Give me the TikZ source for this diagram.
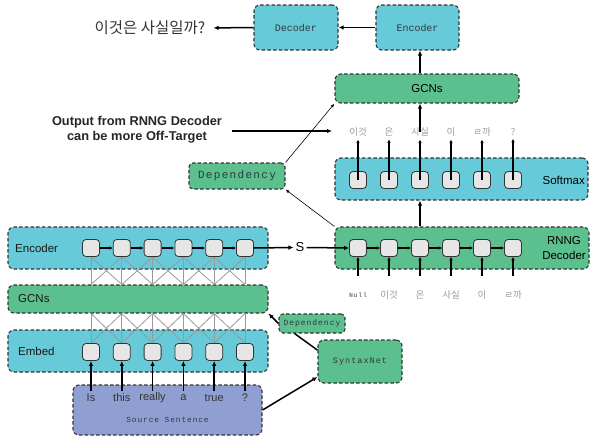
\documentclass[tikz,border=0pt]{standalone}
\usepackage{fontspec}
\setmainfont{Liberation Sans}
\newfontfamily\krfont{Noto Sans CJK KR}
\newfontfamily\monofont{Liberation Mono}
\newfontfamily\monowide[LetterSpace=12]{Liberation Mono}
\usetikzlibrary{arrows.meta}

\definecolor{cyanbox}{HTML}{67CAD8}
\definecolor{greenbox}{HTML}{5CBF8E}
\definecolor{lavbox}{HTML}{8F9FD2}
\definecolor{cellfill}{HTML}{E6E6E6}
\definecolor{edge}{HTML}{333333}
\definecolor{labgray}{HTML}{9A9A9A}
\definecolor{gridgray}{HTML}{999999}
\definecolor{inkgray}{HTML}{2E3A3E}

\begin{document}
\begin{tikzpicture}[x=1pt,y=-1pt,
  blk/.style={draw=edge, dash pattern=on 3.5pt off 2.2pt, line width=1.1pt,
              rounded corners=6pt, inner sep=0pt},
  cbox/.style={blk, fill=cyanbox},
  gbox/.style={blk, fill=greenbox},
  pbox/.style={blk, fill=lavbox},
  cell/.style={draw=edge, fill=cellfill, line width=0.8pt, rounded corners=3.5pt,
               minimum size=17pt, inner sep=0pt},
  arr/.style={-{Latex[length=5pt,width=4.5pt]}, line width=1.5pt},
  sarr/.style={-{Latex[length=3.5pt,width=3.5pt]}, line width=1.4pt},
  tarr/.style={-{Latex[length=4pt,width=3pt]}, line width=0.6pt},
  grid/.style={draw=gridgray, line width=0.8pt},
  blabel/.style={font=\fontsize{11.5}{13}\selectfont, text=black!90, anchor=west, inner sep=0pt},
  krlab/.style={font=\krfont\fontsize{9.5}{11}\selectfont, text=labgray, inner sep=3pt},
  mono/.style={font=\monofont\fontsize{10}{12}\selectfont, text=inkgray},
]
\useasboundingbox (0,0) rectangle (592,437);

% ---------------- top row: output sentence and encoder/decoder ----------------
\node[font=\krfont\fontsize{15.5}{17}\selectfont, text=black!80, inner sep=2pt] (q) at (150,28) {이것은 사실일까?};
\node[cbox, mono, minimum width=84pt, minimum height=45pt] (dec) at (296,27.5) {Decoder};
\node[cbox, mono, minimum width=83pt, minimum height=45pt] (enc) at (417.5,27.5) {Encoder};
\draw[arr] (enc.west) -- (dec.east);
\draw[arr, shorten >=6pt] (dec.west) -- (q.east);

% ---------------- GCNs over the decoder output ----------------
\node[gbox, minimum width=184pt, minimum height=29pt,
      font=\fontsize{11.5}{13}\selectfont] (gt) at (427,88.5) {GCNs};

% ---------------- softmax layer ----------------
\node[cbox, minimum width=253pt, minimum height=42pt] (soft) at (461.5,179) {};
\node[font=\fontsize{11.5}{13}\selectfont, anchor=east, inner sep=0pt] (softlab) at (585,180) {Softmax};
\foreach \i/\t in {1/이것,2/은,3/사실,4/이,5/ㄹ까,6/?} {
  \node[cell] (s\i) at ({358+31*(\i-1)},180) {};
  \node[krlab] (k\i) at ({358+31*(\i-1)},132) {\t};
}
\foreach \i in {1,...,6} \draw[sarr] (s\i.center) -- (k\i.south);
\draw[arr] ([yshift=-7pt]k3.north) -- (gt.south -| k3);
\draw[arr] (gt.north -| k3) -- (enc.south -| k3);

% ---------------- RNNG decoder ----------------
\node[gbox, minimum width=254pt, minimum height=42pt] (rnng) at (462,248) {};
\node[font=\fontsize{11.5}{15}\selectfont, align=center, inner sep=0pt] (rnnglab) at (564,248) {RNNG\\Decoder};
\foreach \i/\t in {1/이것,2/은,3/사실,4/이,5/ㄹ까} {
  \node[krlab] (b\the\numexpr\i+1\relax) at ({358+31*\i},295) {\t};
}
\node[font=\monowide\bfseries\fontsize{6.5}{8}\selectfont, text=labgray!80!black, inner sep=3pt] (b1) at (358,295) {Null};
\foreach \i in {1,...,6} {
  \node[cell] (r\i) at ({358+31*(\i-1)},248) {};
}
\foreach \i [count=\j from 2] in {1,...,5} \draw[sarr] (r\i.east) -- (r\j.west);
\foreach \i in {1,...,6} \draw[sarr] ([yshift=6pt]b\i.north |- 0,282) -- (r\i.south);
\draw[arr] (rnng.north -| r3) -- (soft.south -| r3);

% ---------------- source side: encoder, GCNs, embedding ----------------
\node[cbox, minimum width=260pt, minimum height=42pt] (encL) at (138,248) {};
\node[blabel] (encLlab) at (15,248) {Encoder};
\node[gbox, minimum width=260pt, minimum height=28pt] (gl) at (138,299) {};
\node[blabel] (gllab) at (18,299) {GCNs};
\node[cbox, minimum width=260pt, minimum height=42pt] (emb) at (138,351) {};
\node[blabel] (emblab) at (18,351) {Embed};

% node positions of the six word columns
\foreach \i in {1,...,6} {
  \coordinate (c\i) at ({91+30.8*(\i-1)},0);
}
% graph-convolution wiring between the layers
\foreach \i in {1,...,6} {
  \draw[grid] (c\i |- 0,257) -- (c\i |- gl.north);
  \draw[grid] (c\i |- gl.south) -- (c\i |- 0,343);
}
\foreach \i [count=\j from 2] in {1,...,5} {
  \draw[grid] (c\i |- 0,257) -- (c\j |- gl.north);
  \draw[grid] (c\j |- 0,257) -- (c\i |- gl.north);
  \draw[grid] (c\i |- gl.south) -- (c\j |- 0,343);
  \draw[grid] (c\j |- gl.south) -- (c\i |- 0,343);
}
\foreach \i in {1,...,6} {
  \node[cell] (e\i) at (c\i |- 0,248) {};
  \node[cell] (m\i) at (c\i |- 0,352) {};
}
\foreach \i [count=\j from 2] in {1,...,5} \draw[sarr] (e\i.east) -- (e\j.west);

% ---------------- source sentence ----------------
\node[pbox, minimum width=189pt, minimum height=50pt] (src) at (167.5,410) {};
\foreach \i/\t in {1/Is,2/this,3/really,4/a,5/true,6/?} {
  \node[font=\fontsize{11}{13}\selectfont, text=black!80, inner sep=2pt] (w\i) at (c\i |- 0,398) {\t};
}
\node[font=\monowide\fontsize{7.8}{9}\selectfont, text=inkgray] (srclab) at (167.5,420) {Source Sentence};
\foreach \i in {1,...,6} \draw[arr] (c\i |- 0,391) -- (m\i.south);

% ---------------- hand-off from encoder to RNNG decoder ----------------
\node[font=\fontsize{13}{15}\selectfont, inner sep=2pt] (S) at (300,247.5) {S};
\draw[arr] (e6.east) -- (S.west);
\draw[arr] (S.east) -- (r1.west);

% ---------------- dependency parsing ----------------
\node[gbox, minimum width=84pt, minimum height=43pt,
      font=\monowide\fontsize{8.5}{10}\selectfont, text=inkgray] (syn) at (360,361.5) {SyntaxNet};
\node[gbox, minimum width=66pt, minimum height=19pt, rounded corners=4pt,
      font=\monowide\fontsize{8}{10}\selectfont, text=inkgray] (dep2) at (312,323.5) {Dependency};
\draw[line width=1.5pt] (syn.165) -- (dep2.210);
\draw[arr] (dep2.west) -- (gl.south east);
\draw[arr] (src.east) -- (syn.200);

\node[gbox, minimum width=96pt, minimum height=26pt, rounded corners=4pt,
      font=\monowide\fontsize{11}{13}\selectfont, text=inkgray] (dep1) at (237,176) {Dependency};
\draw[tarr] (dep1.north east) -- (gt.south west);
\draw[tarr] (rnng.north west) -- (dep1.south east);

% ---------------- annotation ----------------
\node[font=\bfseries\fontsize{12.8}{15}\selectfont, align=center, text=black!85, inner sep=0pt] (note) at (137,129.5)
  {Output from RNNG Decoder\\can be more Off-Target};
\coordinate (notetip) at (332,131);
\draw[arr] (232,131) -- (notetip);
\end{tikzpicture}
\end{document}
